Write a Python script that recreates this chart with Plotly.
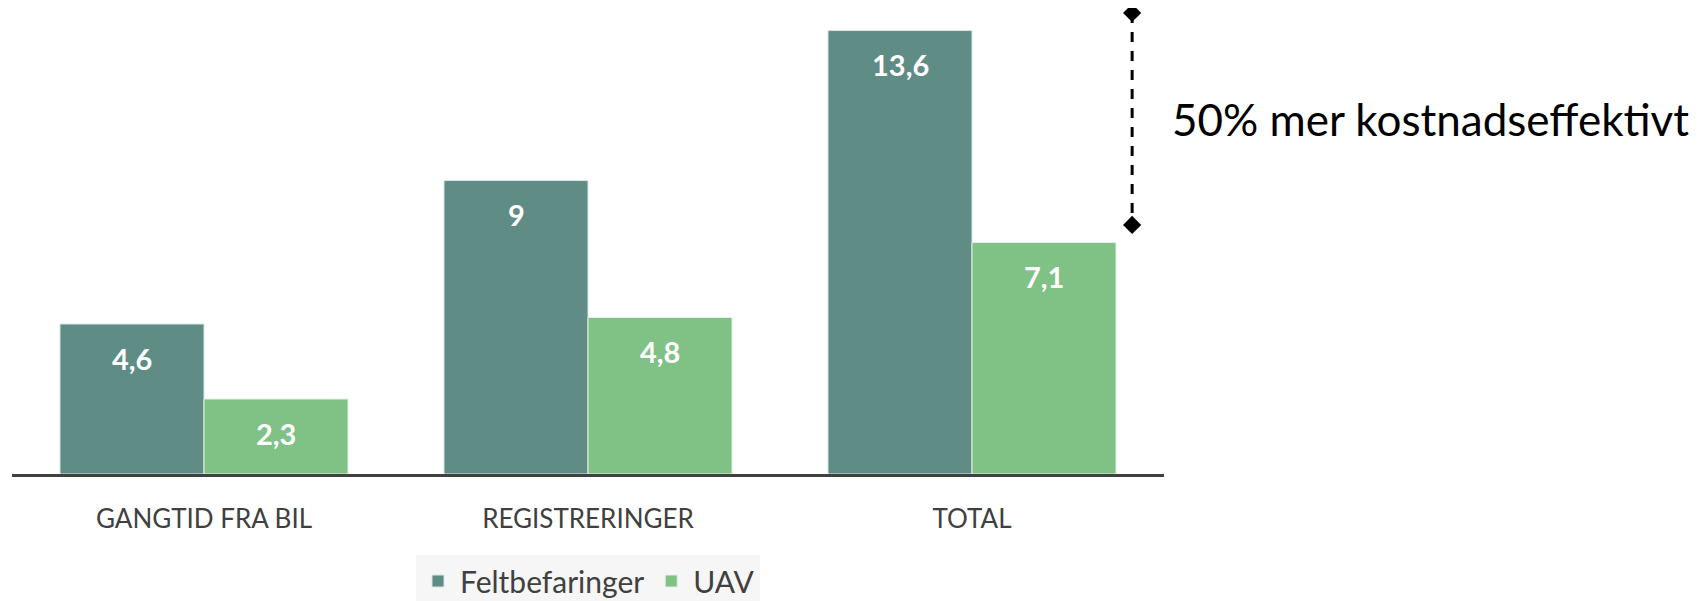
import plotly.graph_objects as go

categories = ["GANGTID FRA BIL", "REGISTRERINGER", "TOTAL"]
feltbefaringer = [4.6, 9, 13.6]
uav = [2.3, 4.8, 7.1]
series_names = ["Feltbefaringer", "UAV"]
bracket_x = 2.417
bracket_y = [14.14, 7.64]
bracket_text = "50% mer kostnadseffektivt"

dark = "#5F8D85"
light = "#80C186"
font_fam = "Lato, 'Open Sans', sans-serif"

fig = go.Figure()
fig.add_trace(go.Bar(x=categories, y=feltbefaringer, name=series_names[0],
                     marker=dict(color=dark, line=dict(color="#dbe6e4", width=1))))
fig.add_trace(go.Bar(x=categories, y=uav, name=series_names[1],
                     marker=dict(color=light, line=dict(color="#e3f1e4", width=1))))

def fmt(v):
    s = f"{v:g}"
    return s.replace(".", ",")

for vals, shift in [(feltbefaringer, -72), (uav, 72)]:
    for c, v in zip(categories, vals):
        fig.add_annotation(x=c, y=v, xref="x", yref="y", text=f"<b>{fmt(v)}</b>",
                           showarrow=False, xshift=shift, yshift=-34,
                           font=dict(family=font_fam, size=29, color="white"))

# bracket line with diamond ends on an overlay linear axis
fig.add_trace(go.Scatter(x=[bracket_x, bracket_x], y=bracket_y, xaxis="x2", mode="lines+markers",
                         line=dict(color="black", width=3, dash="10px,9px"),
                         marker=dict(symbol="diamond", size=14, color="black"),
                         showlegend=False, hoverinfo="skip", cliponaxis=False))
fig.add_annotation(x=1.0, xref="paper", y=10.9, yref="y", yanchor="middle",
                   xanchor="left", xshift=6, text=bracket_text, showarrow=False,
                   font=dict(family=font_fam, size=44, color="black"))

fig.update_layout(
    width=1699, height=601,
    margin=dict(l=4, r=543, t=2, b=135, autoexpand=False),
    plot_bgcolor="white", paper_bgcolor="white",
    barmode="group", bargap=0.25, bargroupgap=0,
    showlegend=True,
    legend=dict(orientation="h", x=0.5, xanchor="center", y=-0.1746, yanchor="top",
                itemwidth=34,
                bgcolor="#f6f6f6", font=dict(family=font_fam, size=30, color="#404040")),
    xaxis=dict(showline=True, linecolor="#404040", linewidth=3, ticks="outside",
               ticklen=20, tickcolor="rgba(0,0,0,0)", showgrid=False,
               tickfont=dict(family=font_fam, size=26, color="#404040"), fixedrange=True),
    xaxis2=dict(overlaying="x", range=[-0.5, 2.5], visible=False),
    yaxis=dict(range=[0, 14.23], visible=False, showgrid=False),
)

fig.write_html("out.html")
